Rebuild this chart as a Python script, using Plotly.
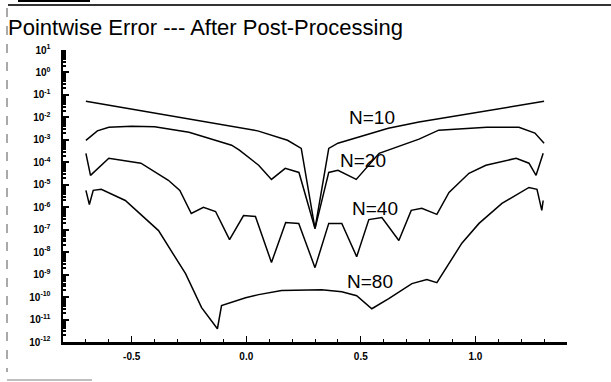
import numpy as np
import plotly.graph_objects as go

# ---- data (x, log10 of pointwise error) ----
x10 = [-0.70, -0.50, -0.30, -0.10, 0.05, 0.18, 0.24, 0.30, 0.36, 0.40, 0.50, 0.62, 0.754, 1.046, 1.30]
e10 = [-1.28, -1.63, -1.98, -2.33, -2.60, -3.02, -3.38, -6.95, -3.38, -3.15, -2.85, -2.48, -2.21, -1.72, -1.28]

x20 = [-0.70, -0.65, -0.60, -0.50, -0.40, -0.25, -0.064, -0.03, 0.054, 0.11, 0.17, 0.23, 0.30,
       0.36, 0.40, 0.48, 0.58, 0.754, 0.84, 1.05, 1.19, 1.26, 1.30]
e20 = [-3.02, -2.60, -2.44, -2.39, -2.42, -2.66, -3.24, -3.46, -4.13, -4.76, -4.27, -4.45, -6.95,
       -4.45, -4.36, -4.76, -3.60, -2.97, -2.57, -2.44, -2.44, -2.70, -3.15]

x40 = [-0.70, -0.68, -0.60, -0.46, -0.34, -0.29, -0.24, -0.187, -0.134, -0.073, -0.012, 0.04,
       0.11, 0.172, 0.229, 0.30, 0.36, 0.417, 0.482, 0.535, 0.592, 0.666, 0.72, 0.766, 0.832,
       0.885, 0.972, 1.046, 1.178, 1.234, 1.265, 1.296]
e40 = [-3.60, -4.58, -3.82, -4.04, -4.80, -5.25, -6.28, -6.00, -6.19, -7.44, -6.37, -6.41,
       -8.46, -6.68, -6.72, -8.69, -6.72, -6.72, -8.20, -6.55, -6.46, -7.48, -6.14, -6.05, -6.32,
       -5.34, -4.49, -4.13, -3.82, -4.04, -4.58, -3.60]

x80 = [-0.70, -0.685, -0.668, -0.633, -0.528, -0.383, -0.265, -0.195, -0.126, -0.108, -0.003,
       0.054, 0.154, 0.329, 0.417, 0.482, 0.548, 0.622, 0.723, 0.788, 0.832, 0.885, 0.941,
       1.016, 1.116, 1.234, 1.269, 1.29, 1.296]
e80 = [-5.25, -5.88, -5.25, -5.20, -5.70, -7.04, -8.96, -10.47, -11.41, -10.38, -10.03,
       -9.89, -9.71, -9.67, -9.76, -9.94, -10.52, -10.07, -9.40, -9.22, -9.36, -8.50, -7.60,
       -6.72, -5.83, -5.12, -5.20, -6.14, -5.70]

series = [("N=10", x10, e10), ("N=20", x20, e20), ("N=40", x40, e40), ("N=80", x80, e80)]

# label positions (x, log10 y)
lab_names = ["N=10", "N=20", "N=40", "N=80"]
lab_x = [0.55, 0.51, 0.56, 0.54]
lab_e = [-2.00, -3.91, -6.05, -9.31]

x_ticks = [-0.5, 0.0, 0.5, 1.0]
x_ticktext = ["-0.5", "0.0", "0.5", "1.0"]
y_exps = list(range(1, -13, -1))

fig = go.Figure()
for name, xs, es in series:
    fig.add_trace(go.Scatter(x=xs, y=[10.0 ** e for e in es], mode="lines",
                             line=dict(color="black", width=1.5), name=name,
                             showlegend=False, hoverinfo="skip"))

for n, lx, le in zip(lab_names, lab_x, lab_e):
    fig.add_annotation(x=lx, y=le, xref="x", yref="y", text=n, showarrow=False,
                       font=dict(family="Arial", size=19, color="black"))

minor_y = [k * 10.0 ** e for e in range(-12, 1) for k in range(2, 10)]

tickf = dict(family="Arial", size=10, color="black", weight="bold")

fig.update_layout(
    width=611, height=382,
    margin=dict(l=63, r=44, t=50, b=40),
    paper_bgcolor="white", plot_bgcolor="white",
    font=dict(family="Arial", color="black"),
    xaxis=dict(range=[-0.8, 1.4], tickvals=x_ticks, ticktext=x_ticktext,
               ticks="inside", ticklen=6, tickwidth=1, tickcolor="black",
               showline=True, linecolor="black", linewidth=2.5, showgrid=False,
               zeroline=False, tickfont=tickf, automargin=False, ticklabelstandoff=3,
               minor=dict(dtick=0.1, tick0=0, ticks="inside", ticklen=3, tickcolor="black")),
    yaxis=dict(type="log", range=[-12, 1],
               tickvals=[10.0 ** e for e in y_exps],
               ticktext=["10<sup>%d</sup>" % e for e in y_exps],
               ticks="inside", ticklen=6, tickwidth=2, tickcolor="black",
               showline=True, linecolor="black", linewidth=2.5, showgrid=False,
               zeroline=False, tickfont=tickf, automargin=False, ticklabelstandoff=8,
               minor=dict(tickvals=minor_y, ticks="inside", ticklen=3, tickcolor="black")),
)

# title
def px(xp):
    return (xp - 63) / 504

def py(yp):
    return (342 - yp) / 292

fig.add_annotation(x=px(6), y=py(27), xref="paper", yref="paper",
                   xanchor="left", yanchor="middle", showarrow=False,
                   text="Pointwise Error --- After Post-Processing",
                   font=dict(family="Arial", size=22, color="black"))

# scan page frame decorations
fig.add_shape(type="line", xref="paper", yref="paper", x0=px(8), x1=px(611), y0=py(5), y1=py(5),
              line=dict(color="#333333", width=2))
fig.add_shape(type="line", xref="paper", yref="paper", x0=px(7), x1=px(7), y0=py(8), y1=py(372),
              line=dict(color="#555555", width=1, dash="dash"))
fig.add_shape(type="line", xref="paper", yref="paper", x0=px(7), x1=px(92), y0=py(380), y1=py(380),
              line=dict(color="#aaaaaa", width=1.5))
fig.add_shape(type="line", xref="paper", yref="paper", x0=px(18), x1=px(90), y0=py(1), y1=py(1),
              line=dict(color="black", width=2))

fig.write_html("out.html", config={"displayModeBar": False, "staticPlot": True},
               post_script="document.body.style.margin='0';document.body.style.padding='0';")
